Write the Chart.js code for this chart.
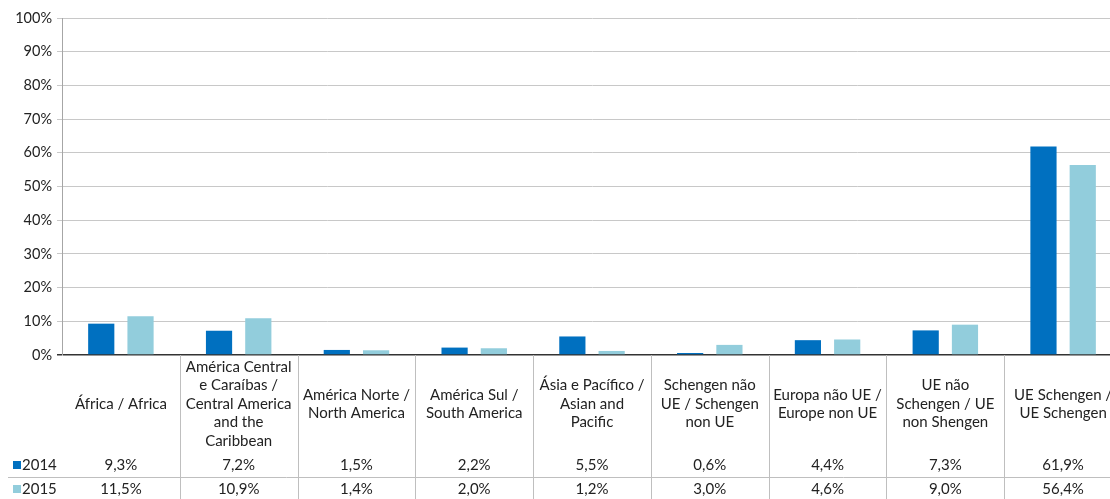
<!DOCTYPE html>
<html>
<head>
<meta charset="utf-8">
<script src="https://cdn.jsdelivr.net/npm/chart.js@4"></script>
<style>
	html, body { margin: 0; padding: 0; background: #fff; overflow: hidden; }
	#wrap { width: 1122px; height: 499px; position: relative; }
</style>
</head>
<body>
<div id="wrap"><canvas id="regions-chart"></canvas></div>
<script>
const categories = [
	["África / Africa"],
	["América Central", "e Caraíbas /", "Central America", "and the", "Caribbean"],
	["América Norte /", "North America"],
	["América Sul /", "South America"],
	["Ásia e Pacífico /", "Asian and", "Pacific"],
	["Schengen não", "UE / Schengen", "non UE"],
	["Europa não UE /", "Europe non UE"],
	["UE não", "Schengen / UE", "non Shengen"],
	["UE Schengen /", "UE Schengen"],
];
const years = ["2014", "2015"];
const values2014 = [9.3, 7.2, 1.5, 2.2, 5.5, 0.6, 4.4, 7.3, 61.9];
const values2015 = [11.5, 10.9, 1.4, 2.0, 1.2, 3.0, 4.6, 9.0, 56.4];
const colors = ["#0070c0", "#92cddc"];

const FONT = "Lato";
const textColor = "#222";
const tableLine = "#bfbfbf";

const fmt = (v) => v.toFixed(1).replace(".", ",") + "%";

// data table under the plot (headers + one row per series)
const dataTable = {
	id: "dataTable",
	afterDraw(chart) {
		const ctx = chart.ctx;
		const area = chart.chartArea;
		const n = chart.data.labels.length;
		const colW = (area.right - area.left) / n;
		const headMid = area.bottom + 49;
		const lineH = 18.5;
		const rowY = [area.bottom + 110, area.bottom + 134];
		const sepY = area.bottom + 122;

		ctx.save();
		ctx.strokeStyle = tableLine;
		ctx.lineWidth = 1;
		ctx.beginPath();
		for (let i = 1; i < n; i++) {
			const x = Math.round(area.left + colW * i) + 0.5;
			ctx.moveTo(x, area.bottom);
			ctx.lineTo(x, chart.height);
		}
		ctx.moveTo(8, sepY + 0.5);
		ctx.lineTo(chart.width, sepY + 0.5);
		ctx.stroke();

		ctx.fillStyle = textColor;
		ctx.font = "15px " + FONT;
		ctx.textAlign = "center";
		ctx.textBaseline = "middle";
		chart.data.labels.forEach((lines, i) => {
			const cx = area.left + colW * (i + 0.5);
			const y0 = headMid - ((lines.length - 1) * lineH) / 2;
			lines.forEach((t, k) => ctx.fillText(t, cx, y0 + k * lineH));
		});

		chart.data.datasets.forEach((ds, r) => {
			ctx.fillStyle = ds.backgroundColor;
			ctx.fillRect(13, rowY[r] - 4, 8, 8);
			ctx.fillStyle = textColor;
			ctx.textAlign = "left";
			ctx.fillText(ds.label, 22, rowY[r]);
			ctx.textAlign = "center";
			ds.data.forEach((v, i) => {
				ctx.fillText(fmt(v), area.left + colW * (i + 0.5), rowY[r]);
			});
		});
		ctx.restore();
	},
};

new Chart(document.getElementById("regions-chart"), {
	type: "bar",
	data: {
		labels: categories,
		datasets: [
			{ label: years[0], data: values2014, backgroundColor: colors[0] },
			{ label: years[1], data: values2015, backgroundColor: colors[1] },
		],
	},
	plugins: [dataTable],
	options: {
		responsive: true,
		maintainAspectRatio: false,
		animation: false,
		categoryPercentage: 0.667,
		barPercentage: 0.667,
		layout: { padding: { top: 18, bottom: 144, left: 0, right: 0 } },
		plugins: {
			legend: { display: false },
			tooltip: { enabled: false },
		},
		scales: {
			x: { display: false },
			y: {
				min: 0,
				max: 100,
				afterFit: (s) => { s.width = 62; },
				ticks: {
					stepSize: 10,
					padding: 5,
					color: textColor,
					font: { family: FONT, size: 14.5 },
					callback: (v) => v + "%",
				},
				grid: {
					tickLength: 5,
					color: (c) => (c.tick && c.tick.value === 0 ? "#333" : "#c8c8c8"),
					lineWidth: (c) => (c.tick && c.tick.value === 0 ? 1.5 : 1),
				},
				border: { color: "#a6a6a6" },
			},
		},
	},
});
</script>
</body>
</html>
